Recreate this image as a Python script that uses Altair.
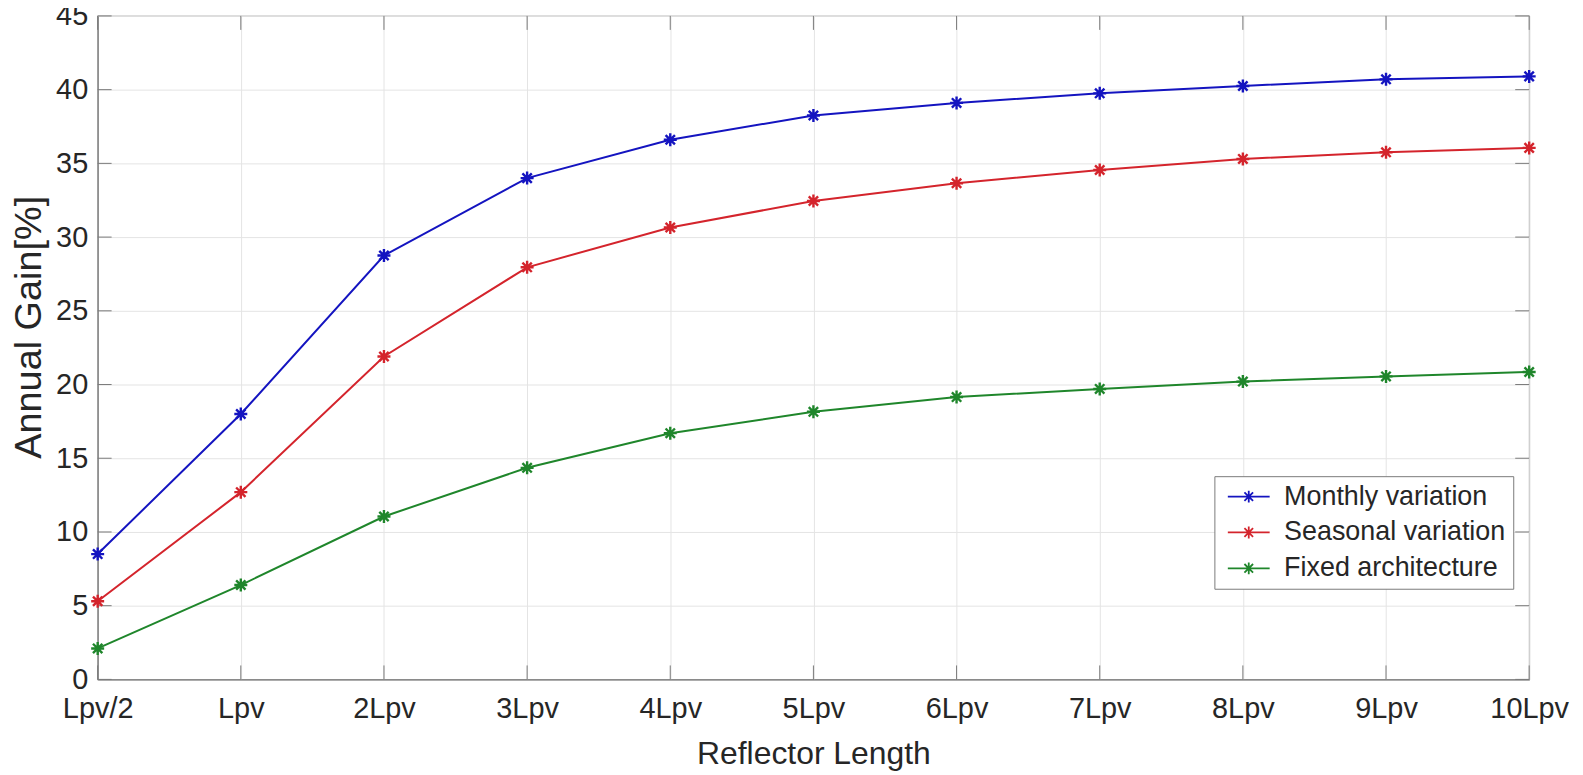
import altair as alt
import pandas as pd

categories = ["Lpv/2", "Lpv", "2Lpv", "3Lpv", "4Lpv", "5Lpv", "6Lpv", "7Lpv", "8Lpv", "9Lpv", "10Lpv"]
series_names = ["Monthly variation", "Seasonal variation", "Fixed architecture"]
monthly = [8.5, 18.0, 28.75, 34.0, 36.6, 38.25, 39.1, 39.75, 40.25, 40.7, 40.9]
seasonal = [5.3, 12.7, 21.9, 27.95, 30.65, 32.45, 33.65, 34.55, 35.3, 35.75, 36.05]
fixed = [2.1, 6.4, 11.05, 14.35, 16.7, 18.15, 19.15, 19.7, 20.2, 20.55, 20.85]
y_ticks = [0, 5, 10, 15, 20, 25, 30, 35, 40, 45]
colors = ["#1414c0", "#d4242c", "#1f862b"]

W, H = 1437, 666
FONT = "Liberation Sans"
AXIS_GRAY = "#7a7a7a"
TEXT = "#262626"
TICK = 14

rows = []
for name, vals in zip(series_names, [monthly, seasonal, fixed]):
    for c, v in zip(categories, vals):
        rows.append({"series": name, "cat": c, "value": v})
df = pd.DataFrame(rows)
cat_df = pd.DataFrame({"cat": categories})
yt_df = pd.DataFrame({"value": y_ticks})

star = "M-1,0L1,0M0,-1L0,1M-0.72,-0.72L0.72,0.72M-0.72,0.72L0.72,-0.72"
legend_sym = "M-3,0L3,0M0,-0.85L0,0.85M-0.62,-0.62L0.62,0.62M-0.62,0.62L0.62,-0.62M-0.85,0L0.85,0"

x_scale = alt.Scale(type="point", domain=categories, padding=0)
y_scale = alt.Scale(domain=[0, 45], nice=False)

x_enc = alt.X(
    "cat:O", sort=categories, scale=x_scale,
    axis=alt.Axis(
        title="Reflector Length", labelAngle=0, ticks=False, labelPadding=15,
        labelFont=FONT, labelFontSize=29, labelColor=TEXT,
        titleFont=FONT, titleFontSize=32, titleFontWeight="normal", titleColor=TEXT,
        titlePadding=15, domainColor=AXIS_GRAY, domainWidth=1.2,
        grid=True, gridColor="#e4e4e4", gridWidth=1,
    ),
)
y_enc = alt.Y(
    "value:Q", scale=y_scale,
    axis=alt.Axis(
        title="Annual Gain[%]", values=y_ticks, ticks=False, labelPadding=10,
        labelFont=FONT, labelFontSize=29, labelColor=TEXT,
        titleFont=FONT, titleFontSize=38, titleFontWeight="normal", titleColor=TEXT,
        titlePadding=7, titleY=312, domainColor=AXIS_GRAY, domainWidth=1.2,
        grid=True, gridColor="#e4e4e4", gridWidth=1,
    ),
)

color_enc = alt.Color(
    "series:N",
    scale=alt.Scale(domain=series_names, range=colors),
    legend=alt.Legend(
        title=None, orient="none", legendX=1121, legendY=462,
        symbolType=legend_sym, symbolSize=196, symbolStrokeWidth=1.8,
        symbolOffset=14, labelOffset=22, labelLimit=500,
        labelFont=FONT, labelFontSize=27, labelColor=TEXT,
        padding=7, rowPadding=8, strokeColor=AXIS_GRAY, fillColor="white",
    ),
)

lines = alt.Chart(df).mark_line(strokeWidth=2).encode(
    x=x_enc, y=y_enc, color=color_enc, detail="series:N"
)
points = alt.Chart(df).mark_point(shape=star, size=170, filled=False, strokeWidth=2.4, opacity=1).encode(
    x=alt.X("cat:O", sort=categories, scale=x_scale),
    y=alt.Y("value:Q", scale=y_scale),
    color=alt.Color("series:N"),
)

xt_bottom = alt.Chart(cat_df).mark_rule(color=AXIS_GRAY, strokeWidth=1).encode(
    x=alt.X("cat:O", sort=categories, scale=x_scale), y=alt.value(H), y2=alt.value(H - TICK)
)
xt_top = alt.Chart(cat_df).mark_rule(color=AXIS_GRAY, strokeWidth=1).encode(
    x=alt.X("cat:O", sort=categories, scale=x_scale), y=alt.value(0), y2=alt.value(TICK)
)
yt_left = alt.Chart(yt_df).mark_rule(color=AXIS_GRAY, strokeWidth=1).encode(
    y=alt.Y("value:Q", scale=y_scale), x=alt.value(0), x2=alt.value(TICK)
)
yt_right = alt.Chart(yt_df).mark_rule(color=AXIS_GRAY, strokeWidth=1).encode(
    y=alt.Y("value:Q", scale=y_scale), x=alt.value(W), x2=alt.value(W - TICK)
)

chart = alt.layer(lines, xt_bottom, xt_top, yt_left, yt_right, points).properties(
    width=W, height=H,
    autosize=alt.AutoSizeParams(type="none"),
    padding={"left": 90, "top": 6.5, "right": 46, "bottom": 94},
    background="white",
).configure_view(stroke=AXIS_GRAY, strokeWidth=1.2)

chart.save("out.html", embed_options={"renderer": "svg", "actions": False})
